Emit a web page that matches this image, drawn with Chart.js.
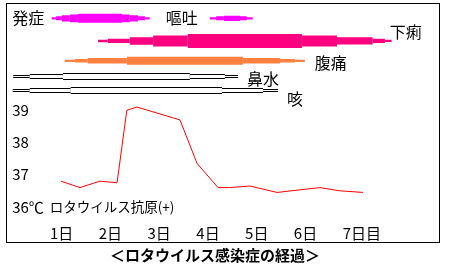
<!DOCTYPE html>
<html>
<head>
<meta charset="utf-8">
<script src="https://cdn.jsdelivr.net/npm/chart.js@4"></script>
<style>
  body { margin: 0; background: #fff; width: 460px; height: 268px; position: relative; overflow: hidden; }
  #frame { position: absolute; left: 6px; top: 3px; width: 432px; height: 238px; border: 1px solid #000; }
  #chart { position: absolute; left: 0; top: 0; }
  #caption { position: absolute; left: 0; top: 246px; width: 430px; text-align: center; color: #000;
             font: bold 15px/18px "Noto Sans CJK JP", sans-serif; }
</style>
</head>
<body>
<div id="frame"></div>
<canvas id="chart" width="460" height="268"></canvas>
<div id="caption">＜ロタウイルス感染症の経過＞</div>
<script>
// x axis: days after onset
const dayTicks = [1, 2, 3, 4, 5, 6, 7];
const dayLabels = ['1日', '2日', '3日', '4日', '5日', '6日', '7日目'];

// temperature axis
const tempTicks = [36, 37, 38, 39];
const tempTickLabels = ['36℃', '37', '38', '39'];

// body temperature (red line)
const tempDays = [1.0, 1.39, 1.8, 2.15, 2.35, 2.56, 3.44, 3.79, 4.22, 4.46, 4.87, 5.43, 6.31, 6.72, 7.19];
const tempValues = [36.8, 36.6, 36.8, 36.75, 39.0, 39.1, 38.7, 37.35, 36.6, 36.6, 36.65, 36.45, 36.6, 36.5, 36.45];

// symptoms: day of each step, severity of the step that starts there
const vomitDays = [0.81, 0.90, 1.02, 1.18, 1.35, 2.25, 2.41, 2.58, 2.72, 2.82, null,
                   4.05, 4.18, 4.34, 4.67, 4.81, 4.93];
const vomitLevel = [0.8, 1.4, 2.2, 2.8, 3.2, 2.8, 2.2, 1.4, 0.8, 0, 0,
                    0.8, 1.4, 1.9, 1.4, 0.8, 0];
const diarrheaDays = [1.76, 1.96, 2.41, 2.89, 3.60, 5.94, 6.66, 7.39, 7.64, 7.78];
const diarrheaLevel = [0.9, 1.5, 2.7, 3.9, 5, 3.9, 2.6, 1.5, 0.8, 0];
const painDays = [1.08, 1.29, 1.55, 2.35, 4.73, 5.49, 5.80, 6.00];
const painLevel = [0.8, 1.2, 2.0, 2.8, 2.0, 1.2, 0.8, 0];
const noseDays = [0.02, 0.36, 1.04, 3.64, 4.36, 4.63];
const noseLevel = [1, 2, 3, 2, 1, 0];
const coughDays = [0.01, 0.36, 1.20, 4.30, 5.14, 5.45];
const coughLevel = [1, 2, 3, 2, 1, 0];

// texts
const onsetLabel = '発症';
const symptomNames = ['嘔吐', '下痢', '腹痛', '鼻水', '咳'];
const antigenLabel = 'ロタウイルス抗原(+)';

// layout / style
const FONT = '"Noto Sans CJK JP", sans-serif';
const ROW = { '嘔吐': 0.65, '下痢': 1.68, '腹痛': 2.58, '鼻水': 3.295, '咳': 3.932 };
const fillWidth = lvl => lvl * 2.8;
const RAIL_OUT = [0, 3, 5, 7];
const RAIL_IN = [0, 1, 3, 5];

function band(name, days, level, color, widthOf, order) {
  return {
    yAxisID: 'yRow',
    data: days.map(d => ({ x: d, y: d === null ? null : ROW[name] })),
    borderColor: color,
    borderWidth: 1,
    borderCapStyle: 'butt',
    pointRadius: 0,
    order: order,
    segment: { borderWidth: c => widthOf(level[c.p0DataIndex]) }
  };
}

const notes = [
  { text: onsetLabel, x: 0, row: '嘔吐', dx: 0, dy: 0, size: 16 },
  { text: symptomNames[0], x: 3.15, row: '嘔吐', dx: 0, dy: 0, size: 16 },
  { text: symptomNames[1], x: diarrheaDays[diarrheaDays.length - 1], row: '下痢', dx: -2, dy: -9, size: 16 },
  { text: symptomNames[2], x: painDays[painDays.length - 1], row: '腹痛', dx: 10, dy: 2, size: 16 },
  { text: symptomNames[3], x: noseDays[noseDays.length - 1], row: '鼻水', dx: 9, dy: 2.5, size: 16 },
  { text: symptomNames[4], x: coughDays[coughDays.length - 1], row: '咳', dx: 9, dy: 8.5, size: 16 },
  { text: antigenLabel, x: 0.77, temp: 36, dx: 0, dy: 0, size: 13.5 }
];

const notesPlugin = {
  id: 'notes',
  afterDatasetsDraw(chart) {
    const ctx = chart.ctx;
    const xs = chart.scales.x, yT = chart.scales.y, yR = chart.scales.yRow;
    ctx.save();
    ctx.fillStyle = '#000';
    ctx.textAlign = 'left';
    ctx.textBaseline = 'middle';
    notes.forEach(n => {
      const px = xs.getPixelForValue(n.x) + n.dx;
      const py = (n.row ? yR.getPixelForValue(ROW[n.row]) : yT.getPixelForValue(n.temp)) + n.dy;
      ctx.font = n.size + 'px ' + FONT;
      ctx.fillText(n.text, px, py);
    });
    ctx.restore();
  }
};

new Chart(document.getElementById('chart'), {
  type: 'line',
  data: {
    datasets: [
      {
        yAxisID: 'y',
        data: tempDays.map((d, i) => ({ x: d, y: tempValues[i] })),
        borderColor: '#ff0000',
        borderWidth: 1,
        pointRadius: 0,
        tension: 0,
        order: 0
      },
      band('嘔吐', vomitDays, vomitLevel, '#ff00ff', fillWidth, 1),
      band('下痢', diarrheaDays, diarrheaLevel, '#ff0080', fillWidth, 1),
      band('腹痛', painDays, painLevel, '#ff8040', fillWidth, 1),
      band('鼻水', noseDays, noseLevel, '#ffffff', l => RAIL_IN[l], 2),
      band('鼻水', noseDays, noseLevel, '#000000', l => RAIL_OUT[l], 3),
      band('咳', coughDays, coughLevel, '#ffffff', l => RAIL_IN[l], 2),
      band('咳', coughDays, coughLevel, '#000000', l => RAIL_OUT[l], 3)
    ]
  },
  options: {
    responsive: false,
    animation: false,
    devicePixelRatio: 1,
    layout: { padding: { left: 12.2, right: 23.44, top: 4, bottom: 26 } },
    plugins: { legend: { display: false }, tooltip: { enabled: false } },
    scales: {
      x: {
        type: 'linear',
        min: 0,
        max: 8.7,
        grid: { display: false, drawTicks: false },
        border: { display: false },
        afterBuildTicks: s => { s.ticks = dayTicks.map(v => ({ value: v })); },
        ticks: {
          align: 'start',
          labelOffset: -11,
          padding: 0,
          maxRotation: 0,
          autoSkip: false,
          color: '#000',
          font: { family: FONT, size: 15, lineHeight: 1.2 },
          callback: (v, i) => dayLabels[i]
        }
      },
      y: {
        type: 'linear',
        position: 'left',
        min: 35.47,
        max: 42.3,
        grid: { display: false, drawTicks: false },
        border: { display: false },
        afterBuildTicks: s => { s.ticks = tempTicks.map(v => ({ value: v })); },
        ticks: {
          mirror: true,
          padding: 0,
          autoSkip: false,
          color: '#000',
          font: { family: FONT, size: 15, lineHeight: 0.4 },
          callback: (v, i) => tempTickLabels[i]
        }
      },
      yRow: {
        type: 'linear',
        display: false,
        reverse: true,
        min: 0,
        max: 10
      }
    }
  },
  plugins: [notesPlugin]
});
</script>
</body>
</html>
